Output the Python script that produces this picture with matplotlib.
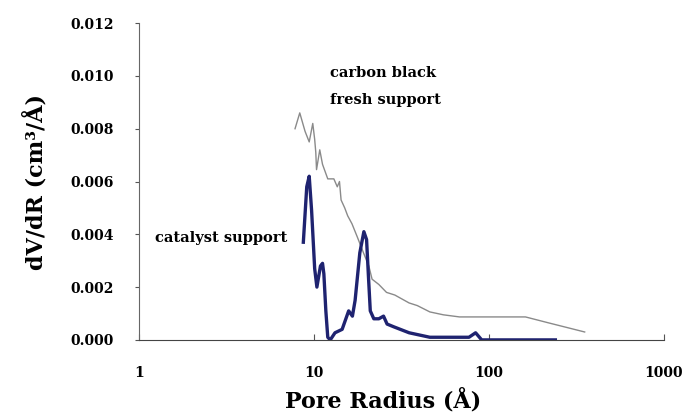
import numpy as np
import matplotlib.pyplot as plt

# carbon black fresh support (thin grey line)
r_cb = [7.8, 8.3, 8.9, 9.4, 9.85, 10.1, 10.25, 10.35, 10.8, 11.2, 12.0, 13.0,
        13.6, 14.0, 14.3, 15.0, 15.6, 16.5, 17.7, 19.2, 20.6, 21.5, 23.5,
        26.0, 29.0, 35.0, 39.0, 46.0, 55.0, 68.0, 100.0, 162.0, 218.0, 353.0]
dv_cb = [0.0080, 0.0086, 0.0079, 0.0075, 0.0082, 0.0076, 0.0071, 0.00645,
         0.0072, 0.00665, 0.0061, 0.0061, 0.0058, 0.0060, 0.0053, 0.0050,
         0.0047, 0.0044, 0.0039, 0.0033, 0.0028, 0.0023, 0.0021, 0.0018,
         0.0017, 0.0014, 0.0013, 0.00106, 0.00095, 0.00087, 0.00087,
         0.00087, 0.00065, 0.0003]

# catalyst support (thick navy line)
r_cs = [8.7, 9.1, 9.4, 9.7, 10.1, 10.4, 10.9, 11.2, 11.4, 11.7, 12.0, 12.4,
        13.2, 14.5, 15.8, 16.6, 17.2, 18.3, 19.3, 20.0, 20.5, 21.0, 22.0,
        23.5, 25.0, 26.2, 28.5, 35.0, 46.0, 70.0, 77.0, 84.0, 91.0, 120.0,
        240.0]
dv_cs = [0.0037, 0.0058, 0.0062, 0.0049, 0.0027, 0.0020, 0.0028, 0.0029,
         0.0025, 0.0011, 0.0001, 0.0, 0.00027, 0.0004, 0.0011, 0.0009,
         0.0015, 0.0033, 0.0041, 0.0038, 0.0024, 0.0011, 0.0008, 0.0008,
         0.0009, 0.0006, 0.0005, 0.00027, 0.0001, 0.0001, 0.0001, 0.00027,
         0.0, 0.0, 0.0]

x_ticks = [1, 10, 100, 1000]
y_ticks = [0.0, 0.002, 0.004, 0.006, 0.008, 0.010, 0.012]

plt.rcParams['font.family'] = ['DejaVu Serif']

fig = plt.figure(figsize=(6.86, 4.13), dpi=100)
ax = fig.add_axes([0.2026, 0.177, 0.765, 0.767])

ax.plot(r_cb, dv_cb, color='#8a8a8a', linewidth=1.0)
ax.plot(r_cs, dv_cs, color='#1f2370', linewidth=2.4)

ax.set_xscale('log')
ax.set_xlim(1, 1000)
ax.set_ylim(0, 0.012)
ax.set_xticks(x_ticks)
ax.set_xticklabels([str(v) for v in x_ticks], fontsize=10, fontweight='bold')
ax.minorticks_off()
ax.set_yticks(y_ticks)
ax.set_yticklabels(['%.3f' % v for v in y_ticks], fontsize=10, fontweight='bold')
ax.tick_params(axis='x', direction='in', length=4, pad=19, color='#555555')
ax.tick_params(axis='y', direction='out', length=3, pad=15, color='#555555')

for s in ['top', 'right']:
    ax.spines[s].set_visible(False)
ax.spines['left'].set_color('#666666')
ax.spines['bottom'].set_color('#444444')

ax.set_xlabel('Pore Radius (Å)', fontsize=16, fontweight='bold')
ax.xaxis.set_label_coords(0.465, -0.19)
ax.xaxis.label.set_va('center')
ax.set_ylabel('dV/dR (cm³/Å)', fontsize=16, fontweight='bold')
ax.yaxis.set_label_coords(-0.198, 0.5)
ax.yaxis.label.set_va('center')

ax.text(12.3, 0.0101, 'carbon black', fontsize=10.5, fontweight='bold',
        ha='left', va='center')
ax.text(12.3, 0.0091, 'fresh support', fontsize=10.5, fontweight='bold',
        ha='left', va='center')
ax.text(1.23, 0.00386, 'catalyst support', fontsize=10.5, fontweight='bold',
        ha='left', va='center')

fig.savefig('out.png', dpi=100)
